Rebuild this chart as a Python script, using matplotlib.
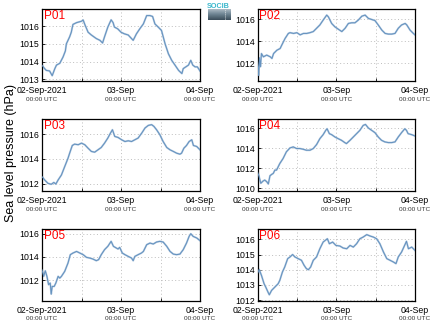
import numpy as np
import pandas as pd
import matplotlib
matplotlib.use("Agg")
import matplotlib.pyplot as plt
import matplotlib.dates as mdates
from matplotlib.transforms import blended_transform_factory
from matplotlib.colors import LinearSegmentedColormap

plt.rcParams['font.family'] = ['Liberation Sans', 'DejaVu Sans']

# ---------------- data (hours after 02-Sep-2021 00:00 UTC, hPa) ----------------
p01_hours = [0, 0.8, 1.3, 2.3, 3.1, 3.9, 4.4, 5.4, 6.4, 7.1, 7.4, 8.4, 8.9, 9.4, 10.5, 12.0, 12.5,
             13.0, 14.0, 15.0, 16.5, 17.6, 18.4, 19.0, 20.0, 21.0, 21.6, 22.0, 23.0, 24.0, 25.0,
             26.2, 27.2, 27.7, 28.7, 29.7, 30.8, 31.8, 32.8, 33.6, 34.3, 35.3, 36.3, 37.4, 38.4,
             39.4, 40.4, 41.5, 42.5, 42.9, 43.7, 44.5, 45.2, 45.8, 46.5, 47.2, 48.0]
p01_hpa = [1013.79, 1013.6, 1013.5, 1013.47, 1013.2, 1013.6, 1013.8, 1013.9, 1014.26, 1014.6,
           1015.0, 1015.4, 1015.66, 1016.1, 1016.2, 1016.28, 1016.35, 1016.1, 1015.66, 1015.5,
           1015.3, 1015.2, 1015.05, 1015.4, 1015.95, 1016.36, 1016.2, 1015.95, 1015.85, 1015.66,
           1015.57, 1015.5, 1015.3, 1015.2, 1015.57, 1015.85, 1016.13, 1016.6, 1016.6, 1016.55,
           1016.13, 1015.95, 1015.76, 1015.0, 1014.44, 1014.07, 1013.8, 1013.5, 1013.32, 1013.6,
           1013.7, 1013.8, 1014.07, 1013.8, 1013.7, 1013.7, 1013.47]

p02_hours = [0, 0.3, 0.6, 0.9, 1.2, 1.8, 2.8, 3.9, 4.4, 4.9, 5.9, 6.9, 7.4, 8.4, 9.4, 9.9, 11.0,
             12.0, 13.0, 14.0, 15.0, 16.0, 17.0, 18.0, 19.0, 20.0, 21.1, 21.6, 22.6, 23.6, 24.7,
             25.7, 26.7, 27.7, 28.7, 29.7, 30.7, 31.8, 32.8, 33.8, 34.8, 35.8, 36.8, 37.9, 38.9,
             39.9, 40.9, 41.9, 42.9, 43.9, 45.0, 45.5, 46.5, 47.5, 48.0]
p02_hpa = [1012.2, 1010.9, 1012.5, 1011.7, 1012.9, 1012.6, 1012.76, 1012.6, 1012.45, 1012.9,
           1013.2, 1013.36, 1013.67, 1014.27, 1014.73, 1014.8, 1014.73, 1014.8, 1014.6, 1014.73,
           1014.73, 1014.8, 1014.9, 1015.2, 1015.5, 1015.94, 1016.4, 1016.24, 1015.64, 1015.33,
           1015.1, 1014.9, 1015.2, 1015.64, 1015.7, 1015.7, 1015.94, 1016.3, 1016.4, 1016.1,
           1016.0, 1015.9, 1015.5, 1015.03, 1014.73, 1014.67, 1014.67, 1014.73, 1015.2, 1015.5,
           1015.64, 1015.5, 1015.03, 1014.73, 1014.6]

p03_hours = [0, 0.8, 1.8, 2.8, 3.6, 4.2, 4.9, 5.9, 6.9, 7.9, 8.4, 9.2, 9.9, 11.0, 12.0, 13.0,
             14.0, 15.0, 16.0, 17.0, 18.0, 19.0, 20.0, 20.8, 21.4, 22.1, 23.1, 24.2, 25.2, 26.2,
             27.2, 28.2, 29.2, 30.3, 31.3, 32.3, 33.3, 34.0, 34.8, 35.8, 36.8, 37.9, 38.9, 39.9,
             40.9, 41.9, 42.4, 43.1, 43.9, 44.7, 45.5, 46.0, 47.0, 48.0]
p03_hpa = [1012.57, 1012.3, 1012.03, 1011.95, 1012.1, 1011.97, 1012.3, 1012.7, 1013.38, 1014.05,
           1014.46, 1015.08, 1015.19, 1015.14, 1015.27, 1015.14, 1014.86, 1014.6, 1014.54,
           1014.73, 1014.92, 1015.27, 1015.68, 1016.08, 1016.35, 1015.81, 1015.73, 1015.54,
           1015.4, 1015.46, 1015.4, 1015.54, 1015.68, 1016.08, 1016.49, 1016.7, 1016.76, 1016.62,
           1016.35, 1015.95, 1015.4, 1014.92, 1014.73, 1014.6, 1014.46, 1014.38, 1014.46, 1014.86,
           1015.08, 1015.4, 1015.54, 1015.08, 1015.0, 1014.73]

p04_hours = [0, 0.5, 1.0, 1.7, 2.2, 2.8, 3.3, 3.8, 4.3, 4.8, 5.3, 5.8, 6.3, 6.8, 7.8, 8.8, 9.9,
             10.9, 11.9, 12.9, 13.9, 14.9, 16.0, 17.0, 18.0, 19.0, 20.0, 20.8, 21.2, 21.9, 22.6,
             23.6, 24.6, 25.6, 26.6, 27.1, 28.2, 29.2, 30.2, 31.2, 32.2, 32.9, 33.8, 34.8, 35.8,
             36.8, 37.8, 38.8, 39.9, 40.9, 41.9, 42.9, 43.9, 44.9, 45.4, 45.9, 47.0, 48.0]
p04_hpa = [1011.65, 1011.15, 1010.5, 1010.72, 1010.82, 1010.66, 1010.43, 1011.25, 1011.38,
           1011.48, 1011.81, 1011.81, 1012.14, 1012.47, 1012.97, 1013.63, 1014.02, 1014.12,
           1013.96, 1013.96, 1013.89, 1013.79, 1013.79, 1013.96, 1014.35, 1014.94, 1015.34,
           1015.77, 1015.93, 1015.44, 1015.34, 1015.11, 1014.94, 1014.78, 1014.55, 1014.45,
           1014.78, 1015.11, 1015.44, 1015.77, 1016.26, 1016.36, 1016.0, 1015.77, 1015.54,
           1015.11, 1014.78, 1014.62, 1014.55, 1014.55, 1014.62, 1015.11, 1015.54, 1015.93,
           1015.77, 1015.44, 1015.34, 1015.21]

p05_hours = [0, 0.5, 1.0, 1.5, 2.0, 2.5, 2.8, 3.1, 3.7, 4.2, 4.9, 5.4, 5.9, 6.9, 7.9, 8.6, 9.4,
             10.5, 11.5, 12.5, 13.5, 14.5, 15.5, 16.5, 17.2, 18.0, 19.0, 20.0, 21.0, 21.7, 22.6,
             23.1, 23.6, 24.4, 25.2, 26.2, 27.2, 27.7, 28.2, 29.2, 30.2, 30.8, 31.8, 32.8, 33.8,
             34.8, 35.8, 36.8, 37.9, 38.9, 39.9, 40.9, 41.9, 42.9, 43.9, 44.7, 45.2, 45.9, 47.0, 48.0]
p05_hpa = [1012.89, 1012.32, 1012.8, 1012.32, 1011.6, 1011.74, 1010.79, 1011.45, 1011.45,
           1011.74, 1012.32, 1012.17, 1012.32, 1012.75, 1013.47, 1014.19, 1014.33, 1014.47,
           1014.33, 1014.19, 1013.96, 1013.9, 1013.81, 1013.67, 1013.76, 1014.19, 1014.62,
           1014.91, 1015.34, 1014.91, 1014.76, 1014.68, 1014.82, 1014.33, 1014.19, 1014.04,
           1013.9, 1013.67, 1014.04, 1014.19, 1014.33, 1014.47, 1015.05, 1015.19, 1015.11,
           1015.28, 1015.34, 1015.28, 1014.91, 1014.47, 1014.24, 1014.19, 1014.24, 1014.62,
           1015.19, 1015.77, 1016.0, 1015.77, 1015.63, 1015.4]

p06_hours = [0, 0.5, 1.2, 2.0, 2.5, 3.3, 3.6, 4.3, 5.3, 6.3, 6.8, 7.6, 8.3, 9.2, 9.9, 10.7,
             11.4, 12.4, 13.4, 14.2, 14.9, 15.5, 16.2, 17.0, 18.0, 19.0, 20.0, 21.3, 21.9, 22.9,
             23.9, 25.1, 26.1, 27.2, 28.2, 29.2, 30.2, 31.2, 32.2, 33.3, 34.3, 35.3, 36.3, 37.3,
             38.4, 39.4, 40.4, 41.4, 42.2, 42.9, 43.9, 44.6, 45.4, 46.0, 47.0, 48.0]
p06_hpa = [1013.74, 1014.02, 1013.63, 1013.08, 1012.86, 1012.48, 1012.35, 1012.64, 1012.86,
           1013.08, 1013.3, 1013.85, 1014.18, 1014.73, 1014.84, 1015.0, 1014.84, 1014.73,
           1014.62, 1014.29, 1014.07, 1014.0, 1014.18, 1014.62, 1014.84, 1015.38, 1015.82,
           1016.04, 1015.71, 1015.82, 1015.6, 1015.56, 1015.43, 1015.38, 1015.6, 1015.49,
           1015.71, 1016.04, 1016.15, 1016.31, 1016.22, 1016.15, 1016.04, 1015.71, 1015.16,
           1014.73, 1014.62, 1014.51, 1014.4, 1014.84, 1015.16, 1015.49, 1015.87, 1015.38,
           1015.49, 1015.27]

station_names = ["P01", "P02", "P03", "P04", "P05", "P06"]
series_hours = [p01_hours, p02_hours, p03_hours, p04_hours, p05_hours, p06_hours]
series_hpa = [p01_hpa, p02_hpa, p03_hpa, p04_hpa, p05_hpa, p06_hpa]
y_limits = [(1012.9, 1017.0), (1010.4, 1017.0), (1011.41, 1017.24),
            (1009.73, 1016.93), (1010.22, 1016.43), (1011.96, 1016.7)]
y_ticks = [[1013, 1014, 1015, 1016], [1012, 1014, 1016], [1012, 1014, 1016],
           [1010, 1012, 1014, 1016], [1012, 1014, 1016], [1012, 1013, 1014, 1015, 1016]]
x_tick_labels = ["02-Sep-2021", "03-Sep", "04-Sep"]
x_sub_label = "00:00 UTC"
y_label = "Sea level pressure (hPa)"

start = pd.Timestamp("2021-09-02 00:00")
end = pd.Timestamp("2021-09-04 00:00")
day_ticks = [start, start + pd.Timedelta(hours=24), end]

W, H = 434, 327
fig = plt.figure(figsize=(W / 100, H / 100), dpi=100)

cols = [(42, 200), (257.5, 415)]
rows = [(8.5, 81), (118.7, 191), (228.7, 300.7)]

line_color = "#6592bf"
grid_kw = dict(color="#bdbdbd", linestyle=(0, (1, 2.5)), linewidth=0.7)

for i, name in enumerate(station_names):
    r, c = divmod(i, 2)
    x0, x1 = cols[c]
    y0, y1 = rows[r]
    ax = fig.add_axes([x0 / W, 1 - y1 / H, (x1 - x0) / W, (y1 - y0) / H])
    t = [start + pd.Timedelta(hours=h) for h in series_hours[i]]
    ax.plot(t, series_hpa[i], color="#bcd0e4", lw=1.4, zorder=2)
    ax.plot(t, series_hpa[i], color=line_color, lw=0.75, zorder=3)
    ax.set_xlim(start, end)
    ax.set_ylim(*y_limits[i])
    ax.set_yticks(y_ticks[i])
    ax.set_yticklabels([str(v) for v in y_ticks[i]], fontsize=6.3)
    ax.set_xticks(day_ticks)
    ax.set_xticklabels(x_tick_labels, fontsize=6.3)
    ax.xaxis.set_minor_locator(mdates.HourLocator(byhour=[12]))
    ax.tick_params(axis="both", which="both", direction="in", length=2.5, width=0.6,
                   pad=2, colors="black", top=False, right=False)
    ax.tick_params(axis="x", pad=3.5)
    ax.grid(True, which="both", axis="x", **grid_kw)
    ax.grid(True, which="major", axis="y", **grid_kw)
    ax.set_axisbelow(True)
    for sp in ax.spines.values():
        sp.set_linewidth(0.9)
        sp.set_color("black")
    trans = blended_transform_factory(ax.transData, ax.transAxes)
    for d in day_ticks:
        ax.text(mdates.date2num(d), -0.215, x_sub_label, transform=trans,
                ha="center", va="top", fontsize=4.6, color="#333333")
    ax.text(0.012, 0.985, name, transform=ax.transAxes, ha="left", va="top",
            fontsize=8.5, color="red", zorder=5)

fig.text(11 / W, 1 - 153 / H, y_label, rotation=90, ha="center", va="center", fontsize=9)

# logo
lax = fig.add_axes([207.5 / W, 1 - 20.5 / H, 22 / W, 11.5 / H])
grad = np.linspace(0, 1, 50).reshape(-1, 1)
cmap = LinearSegmentedColormap.from_list("logo", ["#b9c6cf", "#6f8593", "#3b4d5a"])
lax.imshow(grad, aspect="auto", cmap=cmap, extent=[0, 1, 0, 1], origin="upper")
lax.plot([0.78, 0.78], [0.15, 0.9], color="white", lw=0.6, linestyle=(0, (1, 1.5)))
lax.set_xlim(0, 1)
lax.set_ylim(0, 1)
lax.axis("off")
fig.text(218.5 / W, 1 - 6 / H, "SOCIB", ha="center", va="center", fontsize=5.2,
         color="#39b7cc", fontweight="bold")

fig.savefig("out.png", dpi=100)
